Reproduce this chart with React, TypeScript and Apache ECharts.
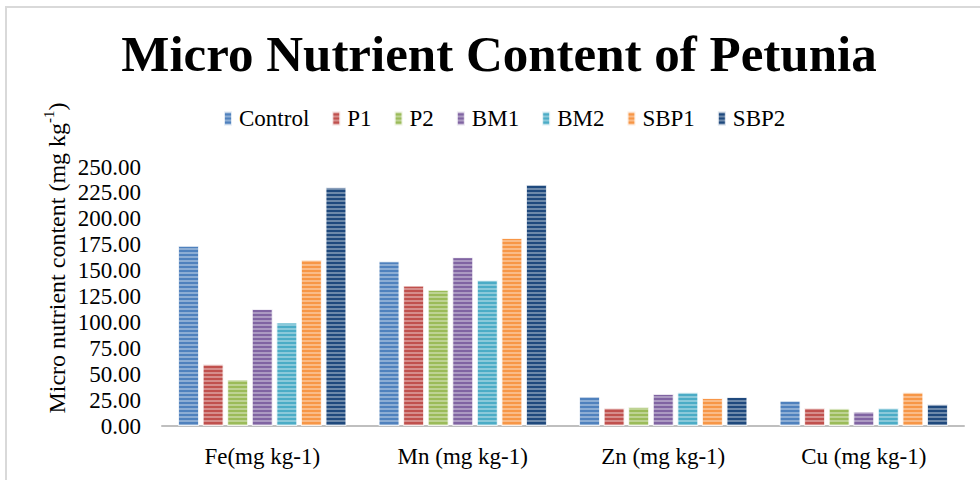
import React, { useEffect, useRef } from "react";
import * as echarts from "echarts";

const categories = ["Fe(mg kg-1)", "Mn (mg kg-1)", "Zn (mg kg-1)", "Cu (mg kg-1)"];
const seriesNames = ["Control", "P1", "P2", "BM1", "BM2", "SBP1", "SBP2"];
const control = [174, 159, 28.5, 24.5];
const p1 = [59.5, 135.5, 17.5, 17.5];
const p2 = [45, 131.5, 18.5, 17];
const bm1 = [113, 163, 31, 14];
const bm2 = [100, 141, 32.5, 17.5];
const sbp1 = [160.5, 181.5, 27, 32.5];
const sbp2 = [230.5, 233, 28, 21];
const seriesValues = [control, p1, p2, bm1, bm2, sbp1, sbp2];
const colors = ["#4f81bd", "#c0504d", "#9bbb59", "#8064a2", "#4bacc6", "#f79646", "#1f497d"];
const yTicks = { min: 0, max: 250, interval: 25 };

const FONT = "'Liberation Serif', 'Times New Roman', serif";

export default function App() {
  const ref = useRef<HTMLDivElement>(null);
  useEffect(() => {
    if (!ref.current) return;
    const chart = echarts.init(ref.current, null, { renderer: "svg" });
    const decal = {
      symbol: "rect",
      symbolSize: 1,
      dashArrayX: [1, 0],
      dashArrayY: [2, 2],
      color: "rgba(255,255,255,0.35)",
      rotation: 0,
    };
    chart.setOption({
      animation: false,
      backgroundColor: "#ffffff",
      color: colors,
      graphic: [
        {
          type: "rect",
          shape: { x: 6, y: 7, width: 990, height: 490 },
          style: { fill: "none", stroke: "#d9d9d9", lineWidth: 2 },
          silent: true,
        },
        {
          type: "text",
          x: 499,
          y: 54,
          style: {
            text: "Micro Nutrient Content of Petunia",
            font: `bold 51px ${FONT}`,
            fill: "#000",
            textAlign: "center",
            textVerticalAlign: "middle",
          },
        },
        {
          type: "text",
          x: 55,
          y: 258,
          rotation: Math.PI / 2,
          style: {
            text: "{a|Micro nutrient content (mg kg}{s|-1}{a|)}",
            textAlign: "center",
            textVerticalAlign: "middle",
            rich: {
              a: { fontFamily: FONT, fontSize: 24, fill: "#000", verticalAlign: "bottom", lineHeight: 27 },
              s: { fontFamily: FONT, fontSize: 15, fill: "#000", verticalAlign: "top", lineHeight: 27 },
            },
          },
        },
      ],
      legend: {
        top: 102,
        left: 218,
        itemWidth: 8,
        itemHeight: 14,
        itemGap: 22,
        icon: "rect",
        textStyle: { fontFamily: FONT, fontSize: 23, color: "#000", padding: [0, 0, 0, 2] },
        data: seriesNames,
      },
      grid: { left: 162, right: 16, top: 167, bottom: 54, containLabel: false },
      xAxis: {
        type: "category",
        data: categories,
        axisLine: { show: true, lineStyle: { color: "#bfbfbf", width: 2 } },
        axisTick: { show: false },
        axisLabel: { fontFamily: FONT, fontSize: 23, color: "#000", margin: 19 },
      },
      yAxis: {
        type: "value",
        min: yTicks.min,
        max: yTicks.max,
        interval: yTicks.interval,
        axisLine: { show: false },
        axisTick: { show: false },
        splitLine: { show: false },
        axisLabel: {
          fontFamily: FONT,
          fontSize: 23,
          color: "#000",
          margin: 21,
          formatter: (v: number) => v.toFixed(2),
        },
      },
      series: seriesNames.map((name, i) => ({
        name,
        type: "bar",
        data: seriesValues[i],
        barWidth: 21,
        barGap: "17%",
        itemStyle: {
          color: colors[i],
          borderColor: "rgba(255,255,255,0.55)",
          borderWidth: 1,
          decal,
        },
      })),
    });
    return () => chart.dispose();
  }, []);
  return (
    <div
      ref={ref}
      style={{ position: "absolute", left: 0, top: 0, width: 980, height: 480 }}
    />
  );
}
